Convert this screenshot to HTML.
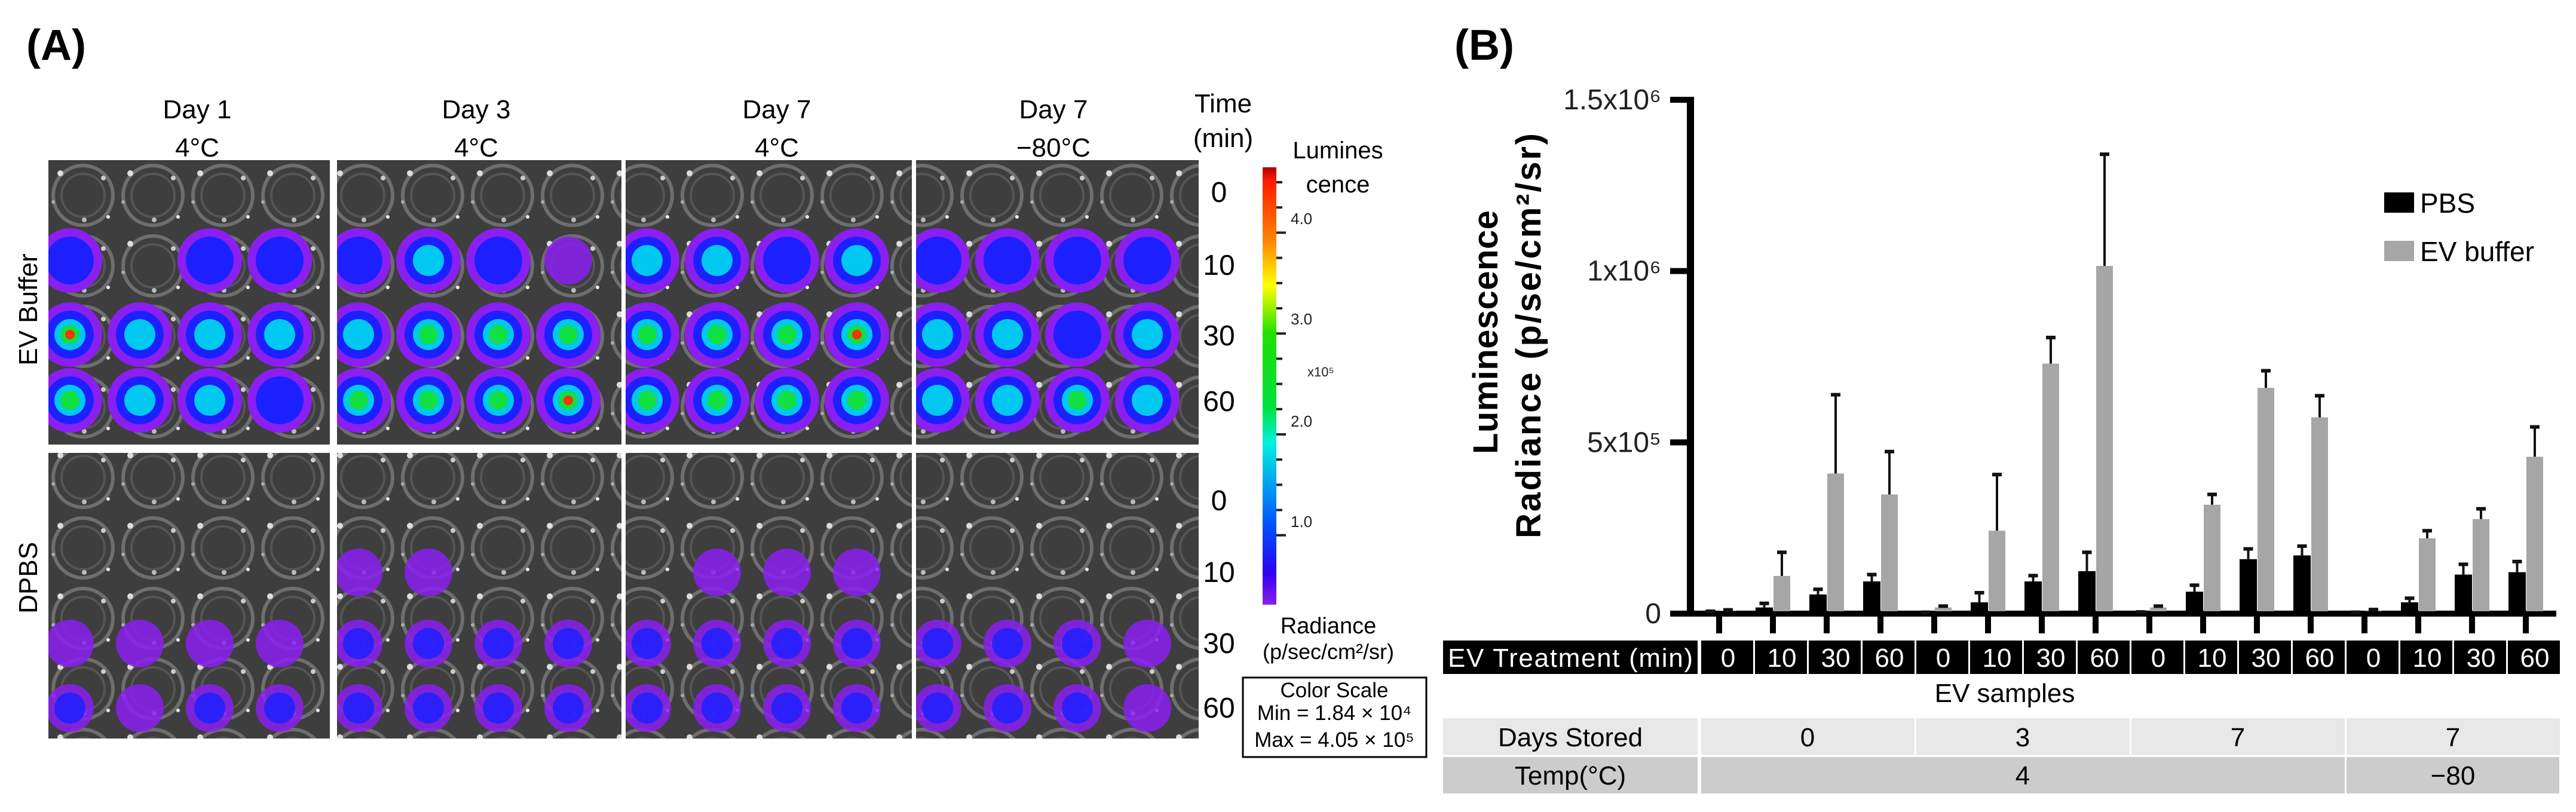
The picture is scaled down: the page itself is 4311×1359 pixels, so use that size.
<!DOCTYPE html>
<html><head><meta charset="utf-8"><style>
html,body{margin:0;padding:0;background:#fff;}
svg{display:block;font-family:"Liberation Sans",sans-serif;}
</style></head><body>
<svg id="fig" width="4311" height="1359" viewBox="0 0 4311 1359" xmlns="http://www.w3.org/2000/svg">
<defs>
<linearGradient id="cbar" x1="0" y1="0" x2="0" y2="1">
<stop offset="0" stop-color="#b00000"/><stop offset="0.03" stop-color="#ff1a00"/>
<stop offset="0.17" stop-color="#ff8800"/><stop offset="0.27" stop-color="#ffff00"/>
<stop offset="0.38" stop-color="#22e000"/><stop offset="0.55" stop-color="#00e040"/>
<stop offset="0.63" stop-color="#00f0e0"/><stop offset="0.82" stop-color="#0050ff"/>
<stop offset="0.93" stop-color="#3000f0"/><stop offset="1" stop-color="#8a1ff0"/>
</linearGradient>
<pattern id="wells" x="81" y="268" width="117" height="118" patternUnits="userSpaceOnUse">
<rect width="117" height="118" fill="#3e3e3e"/>
<circle cx="58" cy="59" r="50" fill="none" stroke="#6e6e6e" stroke-width="6"/>
<circle cx="58" cy="59" r="36" fill="none" stroke="#555" stroke-width="4"/>
<circle cx="20" cy="22" r="5" fill="#ddd"/><circle cx="92" cy="30" r="4" fill="#ccc"/>
<circle cx="60" cy="100" r="4" fill="#bbb"/><circle cx="100" cy="95" r="3" fill="#eee"/>
<circle cx="8" cy="70" r="3" fill="#aaa"/>
</pattern>
</defs>

<text x="44" y="100" font-size="72" font-weight="bold">(A)</text>
<g id="panelA"></g>
<g font-size="44" text-anchor="middle">
<text x="330" y="198">Day 1</text><text x="330" y="262">4°C</text>
<text x="797" y="198">Day 3</text><text x="797" y="262">4°C</text>
<text x="1300" y="198">Day 7</text><text x="1300" y="262">4°C</text>
<text x="1763" y="198">Day 7</text><text x="1763" y="262">−80°C</text>
<text x="2047" y="188">Time</text><text x="2047" y="246">(min)</text>
</g>
<g font-size="48" text-anchor="middle">
<text x="2040" y="338">0</text><text x="2040" y="460">10</text><text x="2040" y="578">30</text><text x="2040" y="688">60</text>
<text x="2040" y="854">0</text><text x="2040" y="974">10</text><text x="2040" y="1093">30</text><text x="2040" y="1201">60</text>
</g>
<text font-size="44" text-anchor="middle" transform="translate(62,518) rotate(-90)">EV Buffer</text>
<text font-size="44" text-anchor="middle" transform="translate(62,967) rotate(-90)">DPBS</text>

<g>
<rect x="2113" y="280" width="23" height="732" fill="url(#cbar)"/>
<g id="cbticks" stroke="#222" stroke-width="4"></g>
<g font-size="26" fill="#222">
<text x="2160" y="375">4.0</text><text x="2160" y="543">3.0</text><text x="2160" y="714">2.0</text><text x="2160" y="882">1.0</text>
<text x="2188" y="630" font-size="22">x10⁵</text>
</g>
<g font-size="40" text-anchor="middle">
<text x="2239" y="265">Lumines</text><text x="2239" y="322">cence</text>
<text x="2223" y="1060" font-size="38">Radiance</text>
<text x="2223" y="1103" font-size="36">(p/sec/cm²/sr)</text>
</g>
<rect x="2080" y="1134" width="307" height="133" fill="none" stroke="#000" stroke-width="3"/>
<g font-size="35" text-anchor="middle">
<text x="2233" y="1167">Color Scale</text>
<text x="2233" y="1205">Min = 1.84 × 10⁴</text>
<text x="2233" y="1250">Max = 4.05 × 10⁵</text>
</g>
</g>

<text x="2434" y="100" font-size="72" font-weight="bold">(B)</text>
<g font-size="58" font-weight="bold" text-anchor="middle">
<text transform="translate(2506,556) rotate(-90)" textLength="408">Luminescence</text>
<text transform="translate(2578,562) rotate(-90)" textLength="678">Radiance  (p/se/cm²/sr)</text>
</g>
<g id="chart"></g>
<g font-size="46">
<rect x="3990" y="322" width="50" height="34" fill="#000"/>
<text x="4050" y="356">PBS</text>
<rect x="3990" y="403" width="50" height="34" fill="#a6a6a6"/>
<text x="4050" y="437">EV buffer</text>
</g>
<g id="table"></g>
<text x="3355" y="1175" font-size="44" text-anchor="middle">EV samples</text>
</svg>

<script>
const groups = ["0","3","7","7"];
const temps = ["4","4","4","-80"];
const minutes = ["0","10","30","60"];
const pbs = [3000,18000,56000,94000, 2000,33000,94000,124000, 3000,64000,159000,170000, 2000,33000,114000,121000];
const pbsErr = [4000,12000,15000,20000, 2000,28000,17000,55000, 2000,19000,30000,27000, 2000,12000,30000,31000];
const ev = [8000,110000,409000,348000, 18000,242000,730000,1015000, 18000,318000,659000,573000, 10000,220000,276000,458000];
const evErr = [3000,69000,230000,125000, 4000,164000,76000,326000, 4000,30000,50000,63000, 2000,22000,30000,87000];
const yTicks = [0,500000,1000000,1500000];
const yTickLabels = ["0","5x10⁵","1x10⁶","1.5x10⁶"];

const NS="http://www.w3.org/2000/svg";
function mk(tag, attrs, parent){const e=document.createElementNS(NS,tag);for(const k in attrs)e.setAttribute(k,attrs[k]);parent.appendChild(e);return e;}
const chart=document.getElementById('chart');
const y0=1027, yTop=167, yMax=1500000;
const yScale=v=>y0-(v/yMax)*(y0-yTop);
const xTick=i=>2877+i*90;

let ax=mk('line',{x1:2829,y1:yTop-4,x2:2829,y2:y0+5,stroke:'#000','stroke-width':12},chart);


let xa=mk('line',{x1:2795,y1:y0,x2:4278,y2:y0,stroke:'#000','stroke-width':10},chart);


yTicks.forEach((t,i)=>{
  const y=yScale(t);
  const tk=mk('line',{x1:2795,y1:y,x2:2835,y2:y,stroke:'#000','stroke-width':10},chart);
  
  
  const lb=mk('text',{x:2780,y:y+16,'font-size':48,'text-anchor':'end',fill:'#222'},chart);
  lb.textContent=yTickLabels[i];
  
  
});
function errBar(cx,top,errTop){
  const l=mk('line',{x1:cx,y1:top,x2:cx,y2:errTop,stroke:'#111','stroke-width':4},chart);
  
  
  const c=mk('line',{x1:cx-8,y1:errTop,x2:cx+8,y2:errTop,stroke:'#111','stroke-width':6},chart);
  
  
}
for(let i=0;i<pbs.length;i++){
  const xt=xTick(i);
  const t=mk('line',{x1:xt,y1:y0,x2:xt,y2:1060,stroke:'#000','stroke-width':10},chart);
  
  
  const bp=mk('rect',{x:xt-29,y:yScale(pbs[i]),width:29,height:y0-yScale(pbs[i]),fill:'#000'},chart);
  
  
  errBar(xt-14.5,yScale(pbs[i]),yScale(pbs[i]+pbsErr[i]));
  const be=mk('rect',{x:xt+1,y:yScale(ev[i]),width:28,height:Math.max(0,y0-4-yScale(ev[i])),fill:'#a6a6a6'},chart);
  
  
  errBar(xt+15,yScale(ev[i]),yScale(ev[i]+evErr[i]));
}

const tb=document.getElementById('table');
let r=mk('rect',{x:2415,y:1072,width:426,height:56,fill:'#000'},tb);


let tt=mk('text',{x:2628,y:1116,'font-size':44,fill:'#fff','text-anchor':'middle',textLength:410},tb);
tt.textContent='EV Treatment  (min)';


for(let i=0;i<16;i++){
  const x=2847+i*90;
  const c=mk('rect',{x:x,y:1072,width:87,height:56,fill:'#000'},tb);
  
  
  const t=mk('text',{x:x+45,y:1116,'font-size':44,fill:'#fff','text-anchor':'middle'},tb);
  t.textContent=minutes[i%4];
  
  
}
let d=mk('rect',{x:2415,y:1202,width:426,height:61,fill:'#e8e8e8'},tb);


let dt=mk('text',{x:2628,y:1249,'font-size':44,'text-anchor':'middle'},tb);dt.textContent='Days Stored';


let tp=mk('rect',{x:2415,y:1267,width:426,height:61,fill:'#cccccc'},tb);


let tpt=mk('text',{x:2628,y:1313,'font-size':44,'text-anchor':'middle'},tb);tpt.textContent='Temp(°C)';


groups.forEach((g,j)=>{
  const x=2847+j*360;
  const c=mk('rect',{x:x,y:1202,width:357,height:61,fill:'#e8e8e8'},tb);
  
  
  const t=mk('text',{x:x+178,y:1249,'font-size':44,'text-anchor':'middle'},tb);t.textContent=g;
  
  
});
let t4=mk('rect',{x:2847,y:1267,width:1077,height:61,fill:'#cccccc'},tb);


let t4t=mk('text',{x:3385,y:1313,'font-size':44,'text-anchor':'middle'},tb);t4t.textContent=temps[0];


let t8=mk('rect',{x:3927,y:1267,width:356,height:61,fill:'#cccccc'},tb);


let t8t=mk('text',{x:4105,y:1313,'font-size':44,'text-anchor':'middle'},tb);t8t.textContent='−80';



const cbt=document.getElementById('cbticks');
for(let k=0;k<=14;k++){const y=280+k*42.2+25;mk('line',{x1:2136,y1:y,x2:(k%4==2)?2152:2146,y2:y},cbt);}

const panelX=[81,564,1047,1533], panelW=[471,476,479,473];
const rowY=[[322,436,560,670],[838,958,1077,1185]];
const topLevels=[
 [[0,0,0,0],[0.35,0,0.3,0.3],[0.75,0.45,0.45,0.4],[0.55,0.5,0.45,0.3]],
 [[0,0,0,0],[0.3,0.42,0.35,0.12],[0.5,0.55,0.65,0.65],[0.6,0.7,0.6,0.95]],
 [[0,0,0,0],[0.4,0.4,0.35,0.45],[0.6,0.65,0.65,0.8],[0.6,0.6,0.65,0.6]],
 [[0,0,0,0],[0.35,0.35,0.35,0.38],[0.42,0.42,0.35,0.45],[0.5,0.5,0.6,0.5]]];
const botLevels=[
 [[0,0,0,0],[0,0,0,0],[0.08,0.08,0.08,0.08],[0.15,0.1,0.15,0.15]],
 [[0,0,0,0],[0.05,0.05,0,0],[0.15,0.15,0.15,0.15],[0.15,0.18,0.15,0.15]],
 [[0,0,0,0],[0,0.1,0.1,0.1],[0.2,0.15,0.2,0.15],[0.2,0.2,0.2,0.15]],
 [[0,0,0,0],[0,0,0,0],[0.18,0.15,0.15,0.1],[0.18,0.15,0.15,0.1]]];
const pA=document.getElementById('panelA');
const defs=document.querySelector('defs');
function blob(g,cx,cy,lv){
  if(lv<=0)return;
  const op=lv<0.25?0.85:1;
  mk('circle',{cx:cx,cy:cy,r:lv<0.25?40:54,fill:'#8a1ff0','fill-opacity':op},g);
  if(lv>=0.15)mk('circle',{cx:cx,cy:cy,r:lv<0.25?26:40,fill:'#1c20ff','fill-opacity':op},g);
  if(lv>=0.4)mk('circle',{cx:cx,cy:cy,r:26,fill:'#00c8f0'},g);
  if(lv>=0.55)mk('circle',{cx:cx,cy:cy,r:16,fill:'#10e040'},g);
  if(lv>=0.75)mk('circle',{cx:cx,cy:cy,r:8,fill:'#ff3000'},g);
}
[topLevels,botLevels].forEach((lvls,ri)=>{
  panelX.forEach((px,pi)=>{
    const top=ri==0?268:758, h=ri==0?476:478;
    const cp=mk('clipPath',{id:'clip'+ri+'_'+pi},defs);
    mk('rect',{x:px,y:top,width:panelW[pi],height:h},cp);
    const g=mk('g',{'clip-path':'url(#clip'+ri+'_'+pi+')'},pA);
    
    
    const bg=mk('rect',{x:px,y:top,width:panelW[pi],height:h,fill:'url(#wells)'},g);
    
    
    for(let row=0;row<4;row++)for(let c=0;c<4;c++){
      blob(g,px+36+c*117,rowY[ri][row],lvls[pi][row][c]);
    }
  });
});
</script>
</body></html>
